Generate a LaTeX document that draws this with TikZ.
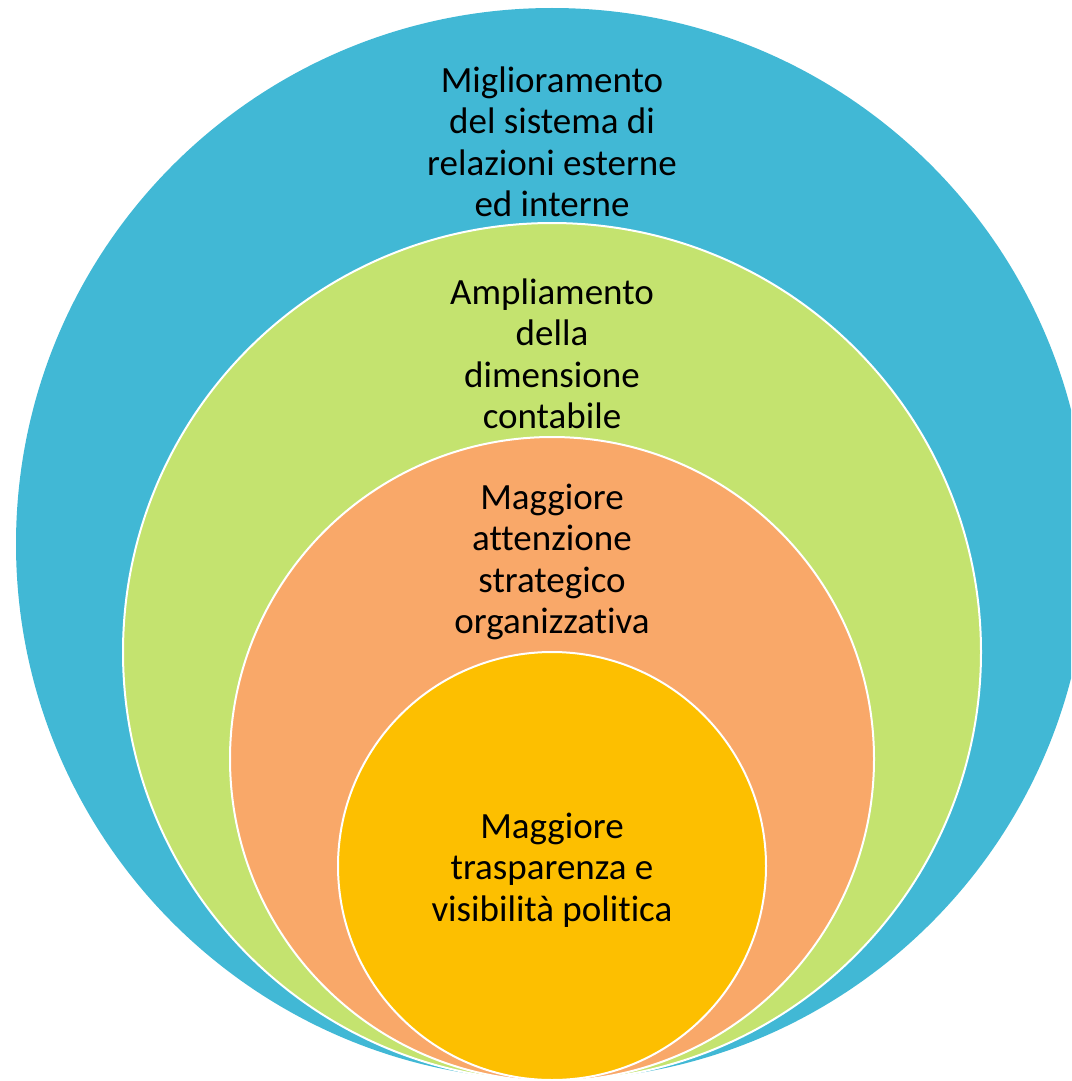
\documentclass[tikz,border=0pt]{standalone}
\usepackage{fontspec}
\setmainfont[Ligatures=NoCommon]{Carlito}
\definecolor{cblue}{HTML}{41B8D5}
\definecolor{cgreen}{HTML}{C4E36F}
\definecolor{corange}{HTML}{F9A869}
\definecolor{cyellow}{HTML}{FDBF00}
\begin{document}
\begin{tikzpicture}[x=1pt,y=-1pt,
  ring/.style={draw=white,line width=2pt},
  lbl/.style={align=center,font=\fontsize{37}{41.5}\selectfont,text=black,inner sep=0pt}]
\useasboundingbox (0,0) rectangle (1071,1081);
\begin{scope}
\clip (0,0) rectangle (1071,1081);
\fill[cblue] (552,544) circle[radius=536];
\draw[ring,fill=cgreen] (552,652) circle[radius=429];
\draw[ring,fill=corange] (552,759) circle[radius=322];
\draw[ring,fill=cyellow] (552,866) circle[radius=214];
\end{scope}
\node[lbl] (t1) at (552,142) {Miglioramento\\del sistema di\\relazioni esterne\\ed interne};
\node[lbl] (t2) at (552,354) {Ampliamento\\della\\dimensione\\contabile};
\node[lbl] (t3) at (552,562) {Maggiore\\attenzione\\strategico\\organizzativa};
\node[lbl] (t4) at (552,870) {Maggiore\\trasparenza e\\visibilità politica};
\end{tikzpicture}
\end{document}
